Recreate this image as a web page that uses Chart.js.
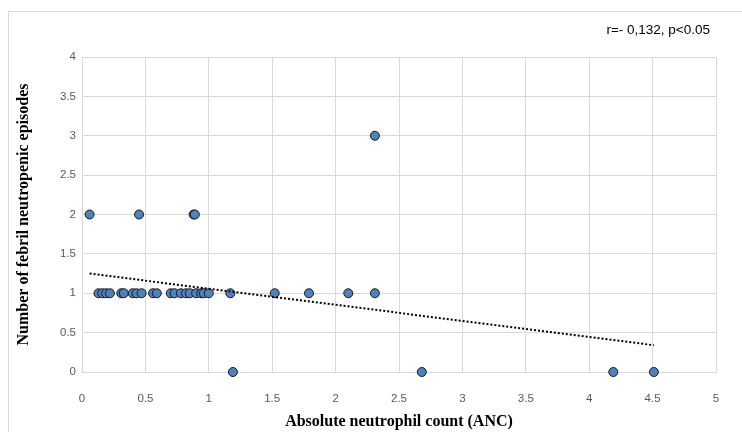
<!DOCTYPE html>
<html>
<head>
<meta charset="utf-8">
<script src="https://cdn.jsdelivr.net/npm/chart.js@4/dist/chart.umd.min.js"></script>
<style>
html,body{margin:0;padding:0;background:#fff;overflow:hidden;}
canvas{display:block;}
</style>
</head>
<body>
<canvas id="myChart" width="742" height="432"></canvas>
<script>
// ANC values and number of episodes
var ancX = [0.06, 0.45, 0.88, 0.89,
	0.13, 0.16, 0.19, 0.22, 0.31, 0.33, 0.40, 0.43, 0.47, 0.56, 0.59, 0.70, 0.73, 0.78, 0.82, 0.85, 0.90, 0.94, 0.96, 1.00, 1.17, 1.52, 1.79, 2.10, 2.31,
	2.31,
	1.19, 2.68, 4.19, 4.51];
var episodesY = [2, 2, 2, 2,
	1, 1, 1, 1, 1, 1, 1, 1, 1, 1, 1, 1, 1, 1, 1, 1, 1, 1, 1, 1, 1, 1, 1, 1, 1,
	3,
	0, 0, 0, 0];
//趋势线 两端
var trendX = [0.06, 4.51];
var trendY = [1.25, 0.34];
var xTicks = [0, 0.5, 1, 1.5, 2, 2.5, 3, 3.5, 4, 4.5, 5];
var yTicks = [0, 0.5, 1, 1.5, 2, 2.5, 3, 3.5, 4];
var noteText = 'r=- 0,132, p<0.05';

var points = [];
for (var i = 0; i < ancX.length; i++) {
	points.push({x: ancX[i], y: episodesY[i]});
}
var trend = [];
for (var i = 0; i < trendX.length; i++) {
	trend.push({x: trendX[i], y: trendY[i]});
}

//外框和右上角文字
var framePlugin = {
	id: 'frame',
	beforeDraw: function(chart) {
		var c = chart.ctx;
		c.save();
		c.fillStyle = '#fff';
		c.fillRect(0, 0, chart.width, chart.height);
		c.strokeStyle = '#d9d9d9';
		c.lineWidth = 1;
		c.strokeRect(8.5, 11.5, 760, 440);
		c.restore();
	},
	afterDraw: function(chart) {
		var c = chart.ctx;
		c.save();
		c.font = '13.5px "Liberation Sans"';
		c.fillStyle = '#000';
		c.textAlign = 'right';
		c.textBaseline = 'middle';
		c.fillText(noteText, 710, 30);
		c.restore();
	}
};

function plainLabel(v) { return String(v); }

var ctx = document.getElementById('myChart');
var myChart = new Chart(ctx, {
	type: 'scatter',
	data: {
		datasets: [{
			data: points,
			backgroundColor: '#4f81bd',
			borderColor: '#1a1a1a',
			borderWidth: 1,
			pointRadius: 4.5,
			clip: false,
			order: 1
		}, {
			data: trend,
			showLine: true,
			borderColor: '#000',
			borderWidth: 2,
			borderDash: [2, 2],
			pointRadius: 0,
			fill: false,
			clip: false,
			order: 0
		}]
	},
	plugins: [framePlugin],
	options: {
		responsive: false,
		animation: false,
		devicePixelRatio: 1,
		layout: {padding: {left: 12, right: 26, top: 57, bottom: 0}},
		plugins: {legend: {display: false}, tooltip: {enabled: false}},
		scales: {
			x: {
				type: 'linear',
				min: 0, max: 5,
				afterBuildTicks: function(s) { s.ticks = xTicks.map(function(v){ return {value: v}; }); },
				afterFit: function(s) { s.height = 60; },
				grid: {color: '#d9d9d9', drawTicks: false},
				border: {color: '#d9d9d9'},
				ticks: {padding: 20, color: '#595959', font: {family: 'Liberation Sans', size: 11.5}, callback: plainLabel},
				title: {display: true, text: 'Absolute neutrophil count (ANC)', color: '#000',
					font: {family: 'Liberation Serif', size: 16, weight: 'bold'}, padding: {top: 0, bottom: 1}}
			},
			y: {
				min: 0, max: 4,
				afterBuildTicks: function(s) { s.ticks = yTicks.map(function(v){ return {value: v}; }); },
				afterFit: function(s) { s.width = 70; },
				grid: {color: '#d9d9d9', drawTicks: false},
				border: {color: '#d9d9d9'},
				ticks: {padding: 6, color: '#595959', font: {family: 'Liberation Sans', size: 11.5}, callback: plainLabel},
				title: {display: true, text: 'Number of febril neutropenic episodes', color: '#000',
					font: {family: 'Liberation Serif', size: 16, weight: 'bold'}, padding: {top: 2, bottom: 0}}
			}
		}
	}
});
</script>
</body>
</html>
